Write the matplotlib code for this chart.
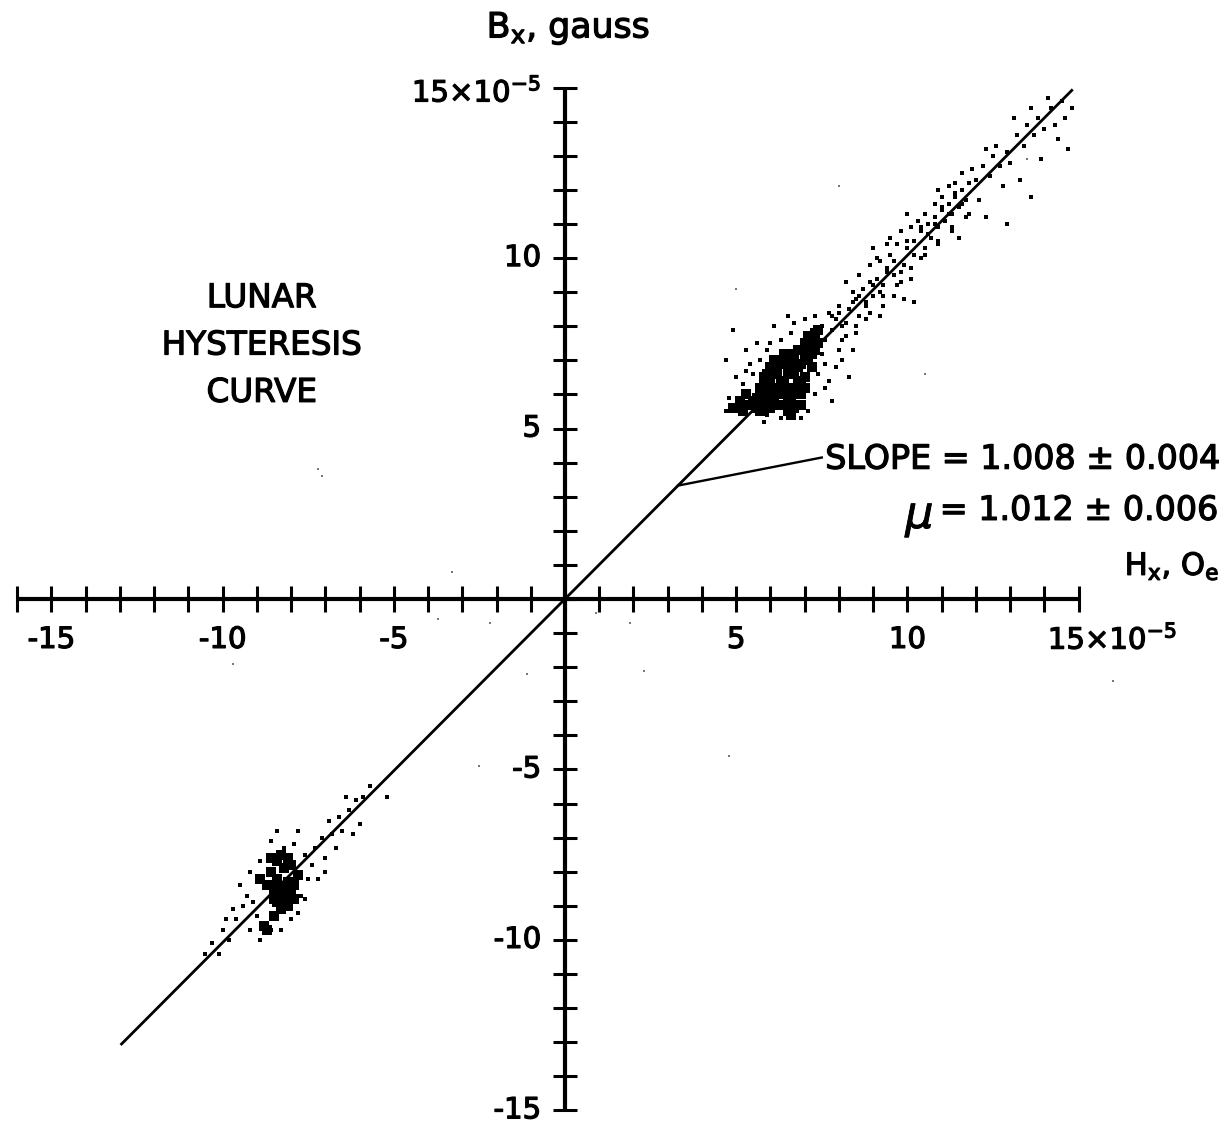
import matplotlib
matplotlib.use("Agg")
import matplotlib.pyplot as plt
import matplotlib.patheffects as pe

plt.rcParams['font.family'] = ['DejaVu Sans']
plt.rcParams['mathtext.default'] = 'regular'

# ---------------- data (units of 1e-5) ----------------
x_ticks = list(range(-16, 16))
y_ticks = list(range(-15, 16))
x_label_vals = [-15, -10, -5, 5, 10]
x_label_txt = ['-15', '-10', '-5', '5', '10']
y_label_vals = [10, 5, -5, -10, -15]
y_label_txt = ['10', '5', '-5', '-10', '-15']

slope = 1.008
fit_x = [-12.95, 14.8]

# dense core of upper cluster
core_up_x = [5.0, 5.2, 5.4, 5.1, 5.3, 5.6, 5.6, 5.8, 5.9, 5.7, 6.0, 6.1, 6.2, 6.0, 5.9, 6.2, 6.3, 6.4, 6.5, 6.4,
             6.6, 6.5, 6.3, 6.6, 6.7, 6.8, 6.9, 6.7, 6.6, 7.0, 6.9, 6.8, 7.0, 7.1, 7.2, 7.3, 7.1, 7.3, 7.4, 6.1,
             6.4, 6.2, 5.8, 6.8, 7.0, 6.9, 6.5, 7.2, 4.9, 5.5, 5.7, 5.9, 6.1, 6.3, 6.5, 6.7, 6.9, 7.1, 6.0, 6.2,
             6.4, 6.6, 6.8, 5.8, 6.3, 6.7, 7.0, 7.2, 7.4, 6.5]
core_up_y = [5.6, 5.5, 5.7, 5.8, 6.0, 5.6, 5.9, 5.7, 6.0, 6.2, 5.6, 5.9, 6.2, 6.4, 6.6, 6.6, 6.0, 5.7, 5.9, 6.3,
             6.2, 6.6, 6.9, 7.0, 6.6, 6.3, 6.0, 5.6, 5.4, 6.5, 6.9, 7.3, 7.5, 7.1, 6.8, 7.3, 7.7, 7.8, 7.5, 7.0,
             7.2, 6.9, 6.3, 6.8, 6.2, 5.7, 5.5, 7.5, 5.6, 5.8, 5.5, 5.8, 6.1, 6.4, 6.1, 6.9, 6.4, 7.4, 6.8, 5.7,
             6.0, 5.8, 6.1, 6.5, 6.4, 7.2, 7.0, 7.2, 7.9, 6.8]

# scattered points of upper cluster
sc_up_x = [4.8, 4.7, 5.2, 5.5, 5.4, 5.7, 5.9, 6.0, 6.3, 6.6, 6.7, 7.0, 7.3, 7.5, 7.6, 7.7, 7.9, 8.0, 7.8, 7.5,
           7.6, 7.4, 7.7, 7.3, 7.6, 7.9, 8.0, 8.2, 8.1, 8.4, 7.1, 6.3, 5.8, 5.9, 6.9, 7.8, 8.3, 5.3, 5.0, 4.7,
           4.9, 5.6, 6.1, 6.5, 5.3,
           8.3, 8.5, 8.6, 8.8, 8.7, 8.9, 9.0, 9.1, 9.3, 8.4, 8.2, 8.6, 8.9, 9.2, 9.4, 9.5, 9.6, 9.3, 9.6, 9.8,
           9.9, 10.0, 9.7, 9.4, 9.1, 8.8, 8.5, 9.9, 10.1, 9.2, 10.2, 8.1, 9.5, 9.8, 9.0,
           10.2, 10.4, 10.5, 10.6, 10.7, 10.8, 10.9, 11.0, 11.1, 11.2, 11.3, 11.0, 10.8, 10.5, 10.3, 11.4, 11.5,
           11.6, 11.7, 11.4, 11.2, 10.9, 11.8, 12.0, 11.9, 11.6, 10.1, 10.4, 10.9, 11.3, 11.8, 12.1, 11.5, 12.3,
           10.0,
           12.2, 12.4, 12.5, 12.7, 12.9, 13.0, 12.6, 12.3, 13.2, 13.4, 13.5, 13.7, 13.8, 14.0, 14.2, 14.3, 14.5,
           14.6, 14.8, 13.1, 13.6, 14.1, 12.8, 13.3, 13.9, 14.4, 12.9, 13.6, 14.7,
           7.8, 8.0, 8.2, 8.4, 8.6, 8.8, 9.0, 9.2, 9.4, 9.6, 9.8, 10.0, 10.2, 10.4, 10.6, 10.8, 11.0, 11.2,
           11.4, 11.6, 8.1, 8.5, 8.9, 9.3, 9.7, 10.1, 10.5, 10.9, 11.3, 11.7]
sc_up_y = [5.9, 5.5, 6.3, 6.6, 6.9, 7.0, 7.3, 7.5, 7.6, 7.8, 8.1, 8.2, 8.3, 8.0, 7.6, 8.4, 8.2, 8.6, 7.9, 7.2,
           6.9, 6.6, 6.4, 6.0, 6.2, 6.8, 7.3, 7.7, 7.0, 7.3, 5.5, 5.3, 5.2, 5.4, 5.3, 5.8, 6.5, 6.7, 6.5, 7.0,
           7.9, 7.5, 8.0, 8.3, 7.3,
           8.5, 8.8, 8.3, 8.7, 9.1, 9.3, 8.9, 9.4, 9.2, 9.0, 9.3, 9.5, 9.8, 9.9, 9.6, 10.1, 9.5, 8.6, 8.9, 9.3,
           9.8, 10.3, 10.4, 10.4, 10.0, 8.2, 7.8, 8.8, 9.4, 8.3, 8.7, 8.0, 10.6, 10.8, 10.3,
           10.5, 10.8, 10.3, 11.0, 10.6, 11.2, 10.9, 11.4, 11.1, 11.6, 11.3, 11.8, 11.6, 11.3, 11.1, 11.8, 11.5,
           12.0, 11.7, 12.2, 12.1, 12.0, 12.2, 12.3, 12.6, 12.5, 10.9, 10.0, 10.4, 10.8, 11.3, 11.7, 10.6, 11.2,
           11.3,
           12.7, 12.4, 13.0, 12.7, 13.1, 12.8, 13.3, 13.2, 13.6, 13.3, 13.9, 13.6, 14.1, 13.8, 14.4, 13.9, 14.6,
           14.1, 14.4, 14.1, 14.4, 14.7, 12.1, 12.3, 12.9, 13.5, 11.0, 11.8, 13.2,
           8.3, 8.4, 8.1, 8.7, 8.9, 8.6, 9.2, 9.0, 9.7, 9.9, 9.6, 10.5, 10.1, 10.9, 10.7, 11.0, 11.5, 11.3,
           11.9, 11.6, 7.6, 8.0, 8.4, 8.9, 9.2, 9.7, 10.1, 10.5, 10.9, 11.2]

# dense core of lower cluster
core_lo_x = [-8.6, -8.4, -8.2, -8.3, -8.5, -8.1, -8.0, -8.7, -8.2, -8.4, -8.0, -7.8, -8.6, -8.3, -8.1, -8.9,
             -7.9, -8.5, -8.8, -8.7, -8.3, -8.5, -8.1, -8.4, -7.9]
core_lo_y = [-8.0, -8.2, -7.9, -8.5, -8.8, -8.3, -8.6, -8.4, -8.8, -7.7, -7.8, -8.1, -7.6, -9.1, -9.0, -8.2,
             -8.4, -9.3, -9.6, -9.7, -7.5, -8.5, -7.6, -8.9, -8.8]

# scattered points of lower cluster
sc_lo_x = [-10.5, -10.3, -10.0, -9.8, -9.6, -9.4, -9.5, -9.3, -9.1, -9.0, -9.2, -8.9, -9.0, -8.8, -8.6, -8.3,
           -8.0, -7.8, -7.7, -7.5, -7.4, -7.6, -7.9, -8.2, -8.6, -8.4, -7.8, -7.3, -7.1, -7.0, -6.8, -6.9,
           -6.6, -6.5, -6.3, -6.1, -6.4, -5.9, -5.7, -6.0, -7.2, -7.0, -8.9, -9.2, -9.7, -10.1, -9.9, -7.6,
           -6.7, -6.2, -5.2]
sc_lo_y = [-10.4, -10.1, -9.7, -10.0, -9.4, -9.0, -8.4, -8.7, -8.9, -8.3, -8.0, -7.7, -9.3, -9.5, -9.7, -9.7,
           -9.4, -9.2, -8.7, -8.2, -7.8, -7.5, -7.2, -7.3, -7.1, -6.8, -6.8, -7.3, -7.0, -7.6, -6.9, -6.5,
           -6.4, -6.8, -6.2, -5.9, -5.8, -5.8, -5.5, -6.6, -8.2, -8.0, -10.0, -9.7, -9.1, -10.4, -9.4, -8.8,
           -7.3, -6.9, -5.8]

# faint stray points
stray_x = [-3.3, -2.2, -3.7, -1.1, 1.9, 2.3, 0.9, -7.2, -7.1, 5.0, 8.0, 12.9, 13.5, -9.7, 4.8, 16.0, 10.5, -2.5]
stray_y = [0.8, -0.7, -0.6, -2.2, -0.7, -2.1, -0.4, 3.8, 3.6, 9.1, 12.1, 11.0, 12.9, -1.9, -4.6, -2.4, 6.6, -4.9]

# ---------------- figure ----------------
fig = plt.figure(figsize=(12.31, 11.25), dpi=100)
ax = fig.add_axes([0, 0, 1, 1])
ax.set_xlim(-16.50, 19.45)
ax.set_ylim(-15.43, 17.57)
ax.axis('off')

thick = [pe.withStroke(linewidth=0.9, foreground='black')]

# axes lines and ticks
ax.plot([x_ticks[0], x_ticks[-1]], [0, 0], color='black', lw=3.0, solid_capstyle='butt')
ax.plot([0, 0], [y_ticks[0], y_ticks[-1]], color='black', lw=3.0, solid_capstyle='butt')
ax.vlines(x_ticks, -0.38, 0.38, color='black', lw=2.2)
ax.hlines(y_ticks, -0.36, 0.36, color='black', lw=2.2)

# data points
ax.scatter(stray_x, stray_y, s=3, c='#777777', marker='s', linewidths=0)
ax.scatter(sc_up_x, sc_up_y, s=10, c='black', marker='s', linewidths=0)
ax.scatter(sc_lo_x, sc_lo_y, s=10, c='black', marker='s', linewidths=0)
ax.scatter(core_up_x, core_up_y, s=48, c='black', marker='s', linewidths=0)
ax.scatter(core_lo_x, core_lo_y, s=48, c='black', marker='s', linewidths=0)

# fit line
ax.plot(fit_x, [slope * v for v in fit_x], color='black', lw=2.0)

# leader line for annotation
ax.plot([3.3, 7.5], [slope * 3.3, 4.15], color='black', lw=1.7)

# tick labels
for v, t in zip(x_label_vals, x_label_txt):
    ax.text(v, -1.2, t, ha='center', va='center', fontsize=21, path_effects=thick)
ax.text(14.1, -1.2, '15\u00d710$^{-5}$', ha='left', va='center', fontsize=21, path_effects=thick)
for v, t in zip(y_label_vals, y_label_txt):
    ax.text(-0.7, v, t, ha='right', va='center', fontsize=21, path_effects=thick)
ax.text(-0.7, 14.85, '15\u00d710$^{-5}$', ha='right', va='center', fontsize=21, path_effects=thick)

# axis titles
ax.text(0.1, 16.75, 'B$_{x}$, gauss', ha='center', va='center', fontsize=25, path_effects=thick)
ax.text(19.1, 0.95, 'H$_{x}$, O$_{e}$', ha='right', va='center', fontsize=22, path_effects=thick)

# annotation
ax.text(7.6, 4.1, 'SLOPE = 1.008 \u00b1 0.004', ha='left', va='center', fontsize=24, path_effects=thick)
ax.text(19.1, 2.6, '= 1.012 \u00b1 0.006', ha='right', va='center', fontsize=24, path_effects=thick)
ax.text(10.35, 2.45, '\u03bc', ha='center', va='center', fontsize=32, style='italic',
        path_effects=[pe.withStroke(linewidth=0.6, foreground='black')])

# title block
ax.text(-8.85, 7.45, 'LUNAR\nHYSTERESIS\nCURVE', ha='center', va='center', fontsize=23.5,
        linespacing=1.55, path_effects=thick)

fig.savefig('out.png', dpi=100)
